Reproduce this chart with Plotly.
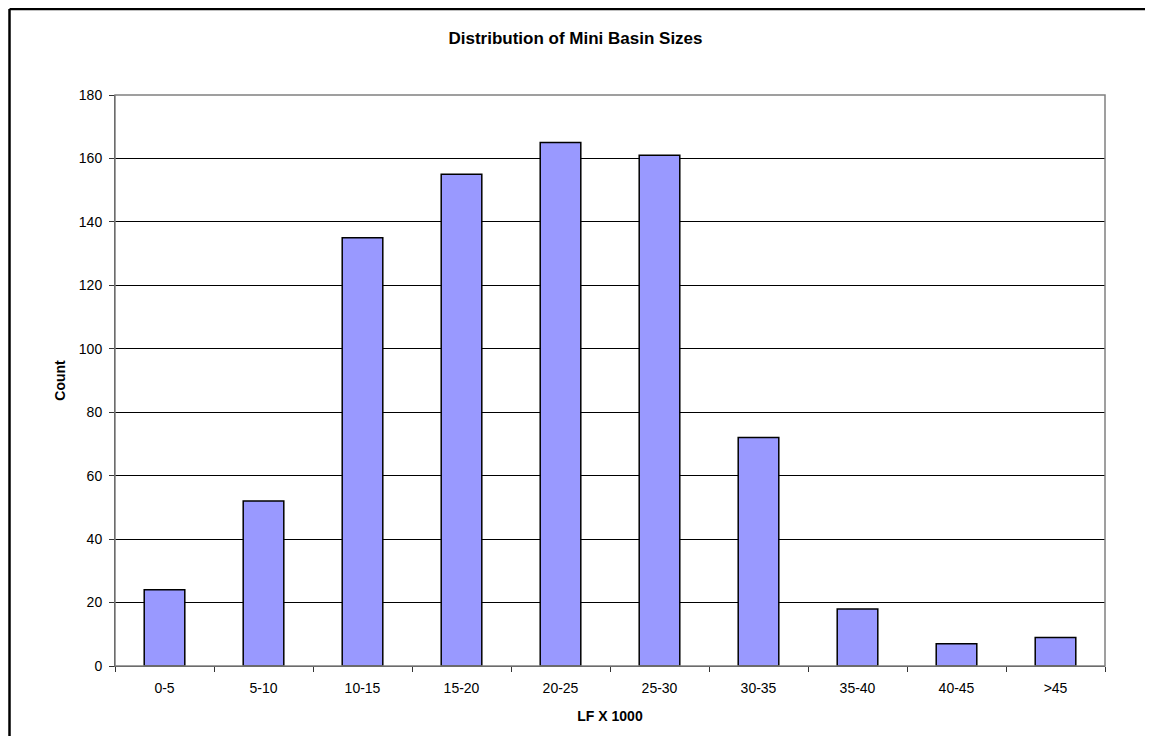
import plotly.graph_objects as go

categories = ["0-5", "5-10", "10-15", "15-20", "20-25", "25-30", "30-35", "35-40", "40-45", ">45"]
counts = [24, 52, 135, 155, 165, 161, 72, 18, 7, 9]

title_text = "Distribution of Mini Basin Sizes"
x_title = "LF X 1000"
y_title = "Count"

FONT = "Liberation Sans, Arial, sans-serif"

W, H = 1145, 728  # page body adds an 8px offset

fig = go.Figure()
fig.add_trace(go.Bar(
    x=categories,
    y=counts,
    marker=dict(color="#9999FF", line=dict(color="#000000", width=1.5)),
    width=0.41,
    hoverinfo="x+y",
))

border_left = (9.5 - 115) / 990
border_top = (666 - 9) / 571

fig.update_layout(
    width=W,
    height=H,
    margin=dict(l=107, r=48, t=87, b=70),
    paper_bgcolor="white",
    plot_bgcolor="white",
    showlegend=False,
    font=dict(family=FONT, size=14, color="black"),
    title=dict(
        text="<b>" + title_text + "</b>",
        x=(575.5 - 8) / W, xanchor="center", xref="container",
        y=1 - 30 / H, yanchor="middle",
        font=dict(family=FONT, size=17, color="black"),
    ),
    xaxis=dict(
        type="category",
        tickson="boundaries",
        ticks="outside",
        ticklen=5,
        tickcolor="#333333",
        showgrid=False,
        showline=True,
        linecolor="#333333",
        linewidth=1,
        tickfont=dict(family=FONT, size=14),
        ticklabelstandoff=9,
        title=dict(text="<b>" + x_title + "</b>", font=dict(family=FONT, size=14), standoff=16),
        range=[-0.5, 9.5],
        fixedrange=True,
    ),
    yaxis=dict(
        range=[0, 180],
        dtick=20,
        ticks="outside",
        ticklen=5,
        tickcolor="#333333",
        showgrid=True,
        gridcolor="#000000",
        gridwidth=1,
        showline=True,
        linecolor="#333333",
        linewidth=1,
        zeroline=False,
        tickfont=dict(family=FONT, size=14),
        ticklabelstandoff=4,
        title=dict(text="<b>" + y_title + "</b>", font=dict(family=FONT, size=14), standoff=9),
        fixedrange=True,
    ),
    shapes=[
        dict(type="rect", xref="paper", yref="paper", x0=0, y0=0, x1=1, y1=1,
             line=dict(color="#808080", width=1.5), fillcolor="rgba(0,0,0,0)", layer="above"),
        # outer chart border: only top and left edges are visible in the frame
        dict(type="line", xref="paper", yref="paper",
             x0=border_left, x1=1.1, y0=border_top, y1=border_top,
             line=dict(color="#000000", width=2.5), layer="above"),
        dict(type="line", xref="paper", yref="paper",
             x0=border_left, x1=border_left, y0=-0.2, y1=border_top,
             line=dict(color="#000000", width=2.5), layer="above"),
    ],
)

fig.write_html("out.html")
